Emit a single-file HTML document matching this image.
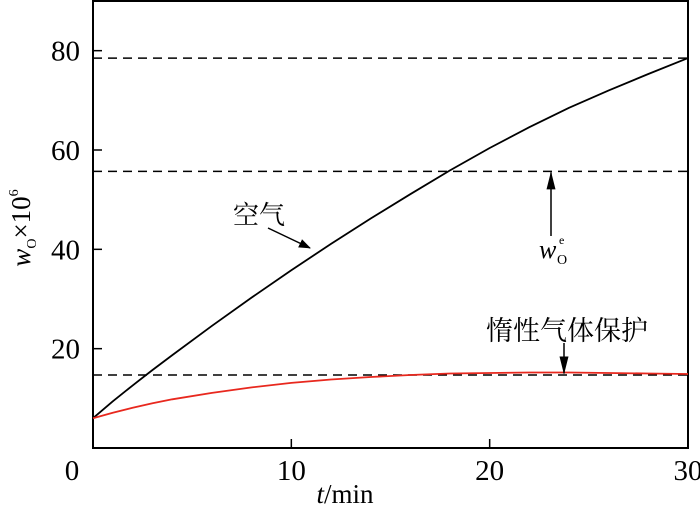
<!DOCTYPE html>
<html><head><meta charset="utf-8"><style>
body{margin:0;background:#fff}
svg{display:block;font-family:"Liberation Serif","Noto Serif CJK SC",serif}
</style></head><body>
<svg width="700" height="509" viewBox="0 0 700 509">
<defs><marker id="ah" markerWidth="12" markerHeight="9" refX="11" refY="4.5" orient="auto" markerUnits="userSpaceOnUse"><path d="M0,0 L12,4.5 L0,9 Z" fill="#000"/></marker>
<marker id="ah2" markerWidth="18" markerHeight="9" refX="17" refY="4.5" orient="auto" markerUnits="userSpaceOnUse"><path d="M0,0 L18,4.5 L0,9 Z" fill="#000"/></marker></defs>
<g id="g"></g>
</svg>
<script>
const times=[0,1,2,3,4,6,8,10,12,14,16,18,20,22,24,26,28,30];
const airVals=[6,9.4,12.6,15.7,18.7,24.6,30.3,35.8,41.1,46.2,51.1,55.9,60.4,64.6,68.5,72.0,75.3,78.5];
const inertVals=[6,7.1,8.1,9,9.8,11.1,12.2,13.1,13.8,14.3,14.7,15.0,15.1,15.2,15.2,15.1,15.0,14.9];
const refLines=[78.5,55.7,14.7];
const xTicks=[0,10,20,30];
const yTicks=[20,40,60,80];
const L=93,R=688,T=1,B=448;
const X=v=>L+(R-L)*v/30, Y=v=>B-(B-T)*v/90;
const g=document.getElementById('g');const NS='http://www.w3.org/2000/svg';
function el(t,a,txt){const e=document.createElementNS(NS,t);for(const k in a)e.setAttribute(k,a[k]);if(txt!=null)e.textContent=txt;g.appendChild(e);return e;}
let f=el('rect',{x:L,y:T,width:R-L,height:B-T,fill:'none',stroke:'#000','stroke-width':2});


refLines.forEach((v,i)=>{let e=el('line',{x1:L,x2:R,y1:Y(v),y2:Y(v),stroke:'#000','stroke-width':1.5,'stroke-dasharray':'9,6'});

});
xTicks.forEach(v=>{if(v>0&&v<30){let t=el('line',{x1:X(v),x2:X(v),y1:B,y2:B-9,stroke:'#000','stroke-width':1.5});

}
let l=el('text',{x:v==0?72:X(v),y:480,'font-size':29,'text-anchor':'middle'},String(v));

});
yTicks.forEach(v=>{let t=el('line',{x1:L,x2:L+9,y1:Y(v),y2:Y(v),stroke:'#000','stroke-width':1.5});


let l=el('text',{x:80,y:Y(v)+10,'font-size':29,'text-anchor':'end'},String(v));

});
function path(vals){return vals.map((v,i)=>(i?'L':'M')+X(times[i]).toFixed(1)+','+Y(v).toFixed(1)).join(' ');}
let a=el('path',{d:path(airVals),fill:'none',stroke:'#000','stroke-width':1.8,'stroke-linejoin':'round'});


let r=el('path',{d:path(inertVals),fill:'none',stroke:'#e8281e','stroke-width':1.8,'stroke-linejoin':'round'});


let t1=el('text',{x:233,y:224,'font-size':26,'font-family':'"Noto Serif CJK SC",serif'},'空气');


let a1=el('line',{x1:268,y1:228,x2:310,y2:248,stroke:'#000','stroke-width':1.5,'marker-end':'url(#ah)'});


let a2=el('line',{x1:551,y1:236,x2:551,y2:Y(55.7)+1,stroke:'#000','stroke-width':1.5,'marker-end':'url(#ah2)'});


let w=el('text',{x:539,y:258,'font-size':26,'font-style':'italic'},'w');


el('text',{x:557,y:264,'font-size':14},'O');el('text',{x:559,y:244,'font-size':12},'e');
let t2=el('text',{x:486,y:340,'font-size':27,'font-family':'"Noto Serif CJK SC",serif'},'惰性气体保护');


let a3=el('line',{x1:564,y1:343,x2:564,y2:Y(15),stroke:'#000','stroke-width':1.5,'marker-end':'url(#ah2)'});


let xl=el('text',{x:345,y:503,'font-size':27,'text-anchor':'middle'});
xl.innerHTML='<tspan font-style="italic">t</tspan>/min';


let yl=el('text',{x:0,y:0,'font-size':27,'text-anchor':'middle',transform:'translate(30,228) rotate(-90)'});
yl.innerHTML='<tspan font-style="italic">w</tspan><tspan font-size="14" dy="6">O</tspan><tspan dy="-6">×10</tspan><tspan font-size="14" dy="-12">6</tspan>';


</script>
</body></html>
